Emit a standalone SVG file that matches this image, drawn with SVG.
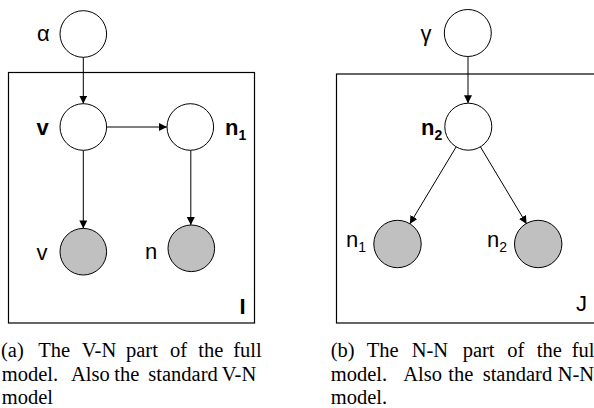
<svg xmlns="http://www.w3.org/2000/svg" width="594" height="408" viewBox="0 0 594 408">
  <style>
    .plate { fill: none; stroke: #000; stroke-width: 1.2; }
    .node { fill: #fff; stroke: #000; stroke-width: 1; }
    .obs { fill: #c0c0c0; stroke: #000; stroke-width: 1; }
    .edge { stroke: #000; stroke-width: 1; fill: none; marker-end: url(#arrow); }
    .lbl { font-family: "Liberation Sans", Arial, sans-serif; font-size: 22px; fill: #000; }
    .bold { font-weight: bold; }
    .sub { font-size: 14px; }
    .cap { font-family: "Liberation Serif", "Times New Roman", serif; font-size: 20.5px; fill: #000; }
  </style>
  <defs>
    <marker id="arrow" viewBox="0 0 10 10" refX="10" refY="5" markerWidth="8" markerHeight="8" markerUnits="userSpaceOnUse" orient="auto">
      <path d="M0,0 L10,5 L0,10 z" fill="#000"/>
    </marker>
  </defs>

  <rect width="594" height="408" fill="#fff"/>

  <!-- plates -->
  <g id="plates">
    <rect class="plate" x="8.5" y="72.5" width="246" height="250.5"/>
    <rect class="plate" x="336.5" y="74" width="270" height="249"/>
    <text class="lbl bold" x="239.5" y="314" font-size="23">I</text>
    <text class="lbl" x="576" y="311" font-size="20">J</text>
  </g>

  <!-- connectors -->
  <g id="edges">
    <line class="edge" x1="83.3" y1="57.3" x2="83.3" y2="103.7"/>
    <line class="edge" x1="106.6" y1="127" x2="166.9" y2="127"/>
    <line class="edge" x1="83.3" y1="150.3" x2="83.3" y2="228.4"/>
    <line class="edge" x1="190.8" y1="150.3" x2="190.8" y2="225"/>
    <line class="edge" x1="468" y1="56.5" x2="468" y2="103.2"/>
    <line class="edge" x1="456.2" y1="146.8" x2="409.8" y2="223.9"/>
    <line class="edge" x1="480.4" y1="146.8" x2="526.6" y2="223.9"/>
  </g>

  <!-- left model -->
  <g id="alpha">
    <circle class="node" cx="83.3" cy="34" r="23.3"/>
    <text class="lbl" x="37" y="41">α</text>
  </g>
  <g id="v-latent">
    <circle class="node" cx="83.3" cy="127" r="23.3"/>
    <text class="lbl bold" x="36.5" y="135">v</text>
  </g>
  <g id="n1-latent">
    <circle class="node" cx="190.3" cy="127" r="23.3"/>
    <text class="lbl bold" x="225" y="135">n<tspan class="sub" dy="5">1</tspan></text>
  </g>
  <g id="v-observed">
    <circle class="obs" cx="83.3" cy="251.7" r="23.3"/>
    <text class="lbl" x="36.5" y="260">v</text>
  </g>
  <g id="n-observed">
    <circle class="obs" cx="191.3" cy="248.3" r="23.3"/>
    <text class="lbl" x="145" y="258.5">n</text>
  </g>

  <!-- right model -->
  <g id="gamma">
    <circle class="node" cx="467.8" cy="33" r="23.5"/>
    <text class="lbl" x="420.5" y="41">γ</text>
  </g>
  <g id="n2-latent">
    <circle class="node" cx="468.3" cy="126.7" r="23.5"/>
    <text class="lbl bold" x="421" y="135">n<tspan class="sub" dy="5">2</tspan></text>
  </g>
  <g id="n1-observed">
    <circle class="obs" cx="397.5" cy="244" r="23.7"/>
    <text class="lbl" x="346" y="247">n<tspan class="sub" dy="5">1</tspan></text>
  </g>
  <g id="n2-observed">
    <circle class="obs" cx="538.2" cy="244" r="23.7"/>
    <text class="lbl" x="487" y="247">n<tspan class="sub" dy="5">2</tspan></text>
  </g>

  <!-- captions -->
  <g id="caption-a" class="cap">
    <text y="357"><tspan x="1">(a)</tspan><tspan x="38.3">The</tspan><tspan x="81.7">V-N</tspan><tspan x="126">part</tspan><tspan x="170">of</tspan><tspan x="198.3">the</tspan><tspan x="233.3">full</tspan></text>
    <text y="381"><tspan x="1.7">model.</tspan><tspan x="71">Also</tspan><tspan x="114.3">the</tspan><tspan x="148.3">standard</tspan><tspan x="221.7">V-N</tspan></text>
    <text y="404"><tspan x="1.7">model</tspan></text>
  </g>
  <g id="caption-b" class="cap">
    <text y="357"><tspan x="330.7">(b)</tspan><tspan x="366.7">The</tspan><tspan x="411.7">N-N</tspan><tspan x="462.7">part</tspan><tspan x="507.3">of</tspan><tspan x="536.7">the</tspan><tspan x="571.7">full</tspan></text>
    <text y="381"><tspan x="330.7">model.</tspan><tspan x="403.3">Also</tspan><tspan x="448.3">the</tspan><tspan x="482.7">standard</tspan><tspan x="557.7">N-N</tspan></text>
    <text y="404"><tspan x="330.7">model.</tspan></text>
  </g>
</svg>
